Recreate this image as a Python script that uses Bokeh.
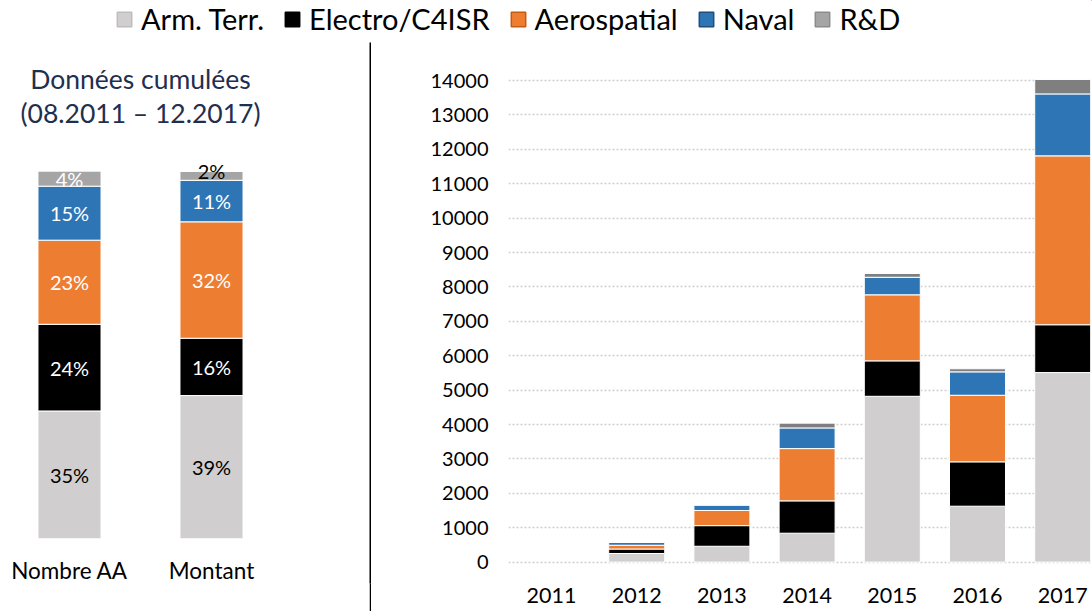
from bokeh.plotting import figure
from bokeh.models import Range1d, FixedTicker, Legend, LegendItem, Label, ColumnDataSource
from bokeh.layouts import row, column
from bokeh.embed import file_html
from bokeh.resources import INLINE
from bokeh.core.properties import value

FONT = "Lato"

# ---------------- data ----------------
series = ["Arm. Terr.", "Electro/C4ISR", "Aerospatial", "Naval", "R&D"]
colors_right = ["#d0cece", "#000000", "#ed7d31", "#2e75b6", "#7f7f7f"]
colors_left = ["#d0cece", "#000000", "#ed7d31", "#2e75b6", "#a5a5a5"]
legend_line_colors = ["#bdbdbd", "#000000", "#c55a11", "#1f4e79", "#8c8c8c"]
label_colors_left = ["#000000", "#ffffff", "#ffffff", "#ffffff", "#ffffff"]

years = ["2011", "2012", "2013", "2014", "2015", "2016", "2017"]
arm_terr = [0, 250, 460, 840, 4820, 1625, 5510]
electro = [0, 130, 600, 940, 1030, 1290, 1390]
aerospatial = [0, 110, 440, 1520, 1920, 1935, 4910]
naval = [0, 80, 150, 600, 510, 680, 1800]
rnd = [0, 0, 0, 140, 110, 90, 420]

cats = ["Nombre AA", "Montant"]
arm_terr_pct = [34.8, 39.0]
electro_pct = [23.6, 15.6]
aerospatial_pct = [22.9, 31.7]
naval_pct = [14.7, 11.3]
rnd_pct = [4.1, 2.4]

y_ticks = list(range(0, 14001, 1000))

title_line1 = "Données cumulées"
title_line2 = "(08.2011 – 12.2017)"


def base_fig(**kw):
    p = figure(output_backend="svg", toolbar_location=None, min_border=0, **kw)
    p.outline_line_color = None
    p.background_fill_color = "white"
    p.border_fill_color = "white"
    return p


# ---------------- legend strip ----------------
leg = base_fig(width=1092, height=42, x_range=Range1d(0, 1), y_range=Range1d(0, 1),
               x_axis_location=None, y_axis_location=None)
leg.grid.visible = False
items = []
for name, c, lc in zip(series, colors_left, legend_line_colors):
    # off-range dummy bar: only its legend swatch is visible
    r = leg.vbar(x=[10], top=[10], bottom=[9], width=0.5, fill_color=c, line_color=lc, line_width=1.5)
    items.append(LegendItem(label=name, renderers=[r]))
legend = Legend(items=items, orientation="horizontal", location=(115, 6),
                glyph_width=18, glyph_height=18, label_standoff=8, spacing=19,
                padding=0, margin=0, border_line_color=None, background_fill_alpha=0,
                label_text_font=FONT, label_text_font_size="29px", label_text_color="#000000")
leg.add_layout(legend, "center")

# ---------------- left: cumulative percentages ----------------
left = base_fig(width=369, height=569, x_range=Range1d(-0.4859, 2.1127), y_range=Range1d(-12.17, 135.12),
                x_axis_location=None, y_axis_location=None, min_border_bottom=28)
left.grid.visible = False

pct_series = [arm_terr_pct, electro_pct, aerospatial_pct, naval_pct, rnd_pct]
xs = list(range(len(cats)))
bottom = [0.0] * len(cats)
for vals, c, lc in zip(pct_series, colors_left, label_colors_left):
    top = [b + v for b, v in zip(bottom, vals)]
    mid = [(b + t) / 2 for b, t in zip(bottom, top)]
    labs = [f"{round(v)}%" for v in vals]
    src = ColumnDataSource(dict(x=xs, bottom=bottom, top=top))
    left.vbar(x="x", bottom="bottom", top="top", width=0.444, source=src,
              fill_color=c, line_color="white", line_width=1)
    inside = [i for i, v in enumerate(vals) if v >= 3]
    above = [i for i, v in enumerate(vals) if v < 3]
    if inside:
        s_in = ColumnDataSource(dict(x=[xs[i] for i in inside], y=[mid[i] for i in inside],
                                     t=[labs[i] for i in inside]))
        left.text(x="x", y="y", text="t", source=s_in, text_align="center", text_baseline="middle",
                  text_font=value(FONT), text_font_size="20px", text_color=lc)
    if above:
        s_ab = ColumnDataSource(dict(x=[xs[i] for i in above], y=[top[i] for i in above],
                                     t=[labs[i] for i in above]))
        left.text(x="x", y="y", text="t", source=s_ab, text_align="center", text_baseline="alphabetic",
                  text_font=value(FONT), text_font_size="20px", text_color="#000000")
    bottom = top

# category names under the bars
cat_src = ColumnDataSource(dict(x=xs, y=[-8.6] * len(cats), t=cats))
left.text(x="x", y="y", text="t", source=cat_src, text_align="center", text_baseline="middle",
          text_font=value(FONT), text_font_size="22.5px", text_color="#000000")

left.add_layout(Label(x=0.5, y=125.3, text=title_line1, text_align="center", text_baseline="middle",
                      text_font=FONT, text_font_size="26.5px", text_color="#1f2f4f"))
left.add_layout(Label(x=0.5, y=115.8, text=title_line2, text_align="center", text_baseline="middle",
                      text_font=FONT, text_font_size="26.5px", text_color="#1f2f4f"))

# ---------------- separator ----------------
sep = base_fig(width=2, height=569, x_range=Range1d(0, 1), y_range=Range1d(0, 1),
               x_axis_location=None, y_axis_location=None)
sep.grid.visible = False
sep.background_fill_color = "black"
sep.border_fill_color = "black"

# ---------------- right: yearly stacked bars ----------------
right = base_fig(width=721, height=569, x_range=Range1d(-0.5047, 6.3498), y_range=Range1d(-622, 15105),
                 min_border_left=137, min_border_bottom=28)
right.xgrid.visible = False
right.ygrid.ticker = FixedTicker(ticks=y_ticks)
right.ygrid.grid_line_color = "#cfcfcf"
right.ygrid.grid_line_dash = "2 2"
right.ygrid.grid_line_width = 1.5

right.yaxis.ticker = FixedTicker(ticks=y_ticks)
right.xaxis.ticker = FixedTicker(ticks=list(range(len(years))))
right.xaxis.major_label_overrides = {i: y for i, y in enumerate(years)}
for ax in (right.xaxis, right.yaxis):
    ax.axis_line_color = None
    ax.major_tick_line_color = None
    ax.minor_tick_line_color = None
    ax.major_tick_out = 0
    ax.major_tick_in = 0
    ax.major_label_text_font = FONT
    ax.major_label_text_color = "#000000"
right.yaxis.major_label_text_font_size = "20px"
right.yaxis.major_label_standoff = 20
right.xaxis.major_label_text_font_size = "21.5px"
right.xaxis.major_label_standoff = 4

val_series = [arm_terr, electro, aerospatial, naval, rnd]
xr = list(range(len(years)))
bottom = [0] * len(years)
for vals, c in zip(val_series, colors_right):
    top = [b + v for b, v in zip(bottom, vals)]
    vis = [1.0 if v > 0 else 0.0 for v in vals]
    src = ColumnDataSource(dict(x=xr, bottom=bottom, top=top, a=vis))
    right.vbar(x="x", bottom="bottom", top="top", width=0.657, source=src,
               fill_color=c, fill_alpha="a", line_color="white", line_alpha="a", line_width=1)
    bottom = top

layout = column(leg, row(left, sep, right))

with open("out.html", "w") as f:
    f.write(file_html(layout, INLINE))
